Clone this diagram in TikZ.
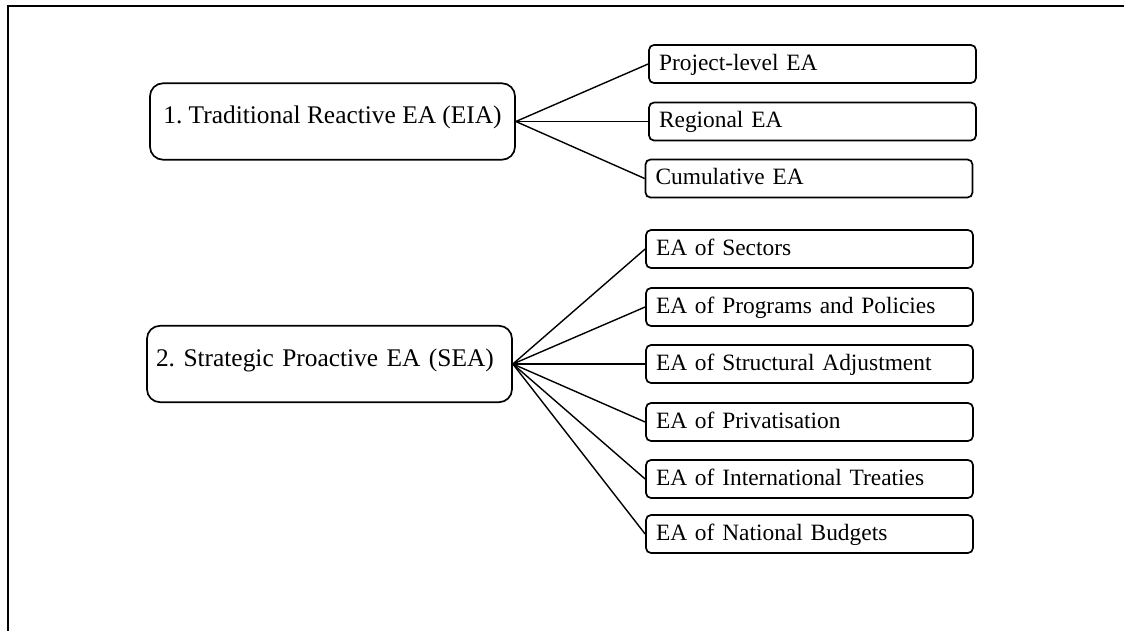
\documentclass[tikz,border=0pt]{standalone}
\usepackage{fontspec}
\setmainfont{Liberation Serif}
\frenchspacing

\begin{document}
\begin{tikzpicture}[
  x=0.5pt, y=-0.5pt,
  mainbox/.style={draw, line width=0.85pt, rounded corners=6.5pt, minimum width=182.5pt,
    inner ysep=0pt, inner xsep=4.5pt, text height=20.2pt, text depth=18pt,
    font=\fontsize{12.7}{15}\selectfont},
  subbox/.style={draw, line width=0.85pt, rounded corners=2.5pt, inner ysep=0pt, inner xsep=5pt,
    text width=153.5pt, align=left, text height=12.6pt, text depth=6.4pt,
    font=\fontsize{11.7}{14}\selectfont},
  link/.style={line width=0.7pt}]
\useasboundingbox (0,0) rectangle (1125,631);
% frame (top and left edge only)
\draw[line width=1pt] (7.5,631) -- (7.5,6.5) -- (1124,6.5);
% the two kinds of EA
\node[mainbox] (eia) at (332.5,121.5) {1. Traditional Reactive EA (EIA)};
\node[mainbox, text width=173.5pt, align=left] (sea) at (329.5,364) {2. Strategic Proactive EA (SEA)};
% reactive branches
\foreach \n/\x/\y/\txt in {proj/812.5/64/Project-level EA, reg/812.5/121.5/Regional EA,
    cum/809/178.5/Cumulative EA}{
  \node[subbox] (\n) at (\x,\y) {\txt};
  \draw[link] (eia.east) -- (\n.west);
}
% strategic branches
\foreach \n/\y/\txt in {sect/249/EA of Sectors, prog/307/EA of Programs and Policies,
    adj/364/EA of Structural Adjustment, priv/422/EA of Privatisation,
    treat/479/EA of International Treaties, budg/534/EA of National Budgets}{
  \node[subbox] (\n) at (809.5,\y) {\txt};
  \draw[link] (sea.east) -- (\n.west);
}
\end{tikzpicture}
\end{document}
